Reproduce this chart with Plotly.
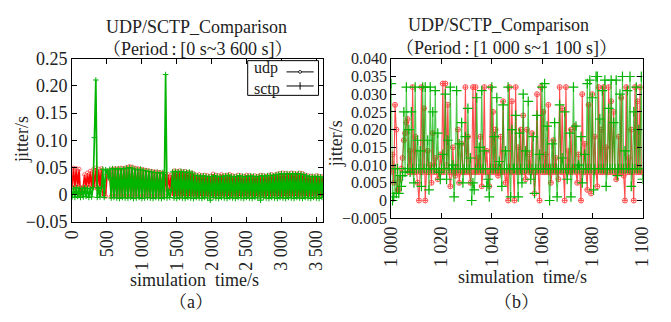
import plotly.graph_objects as go

# ---------------- data ----------------
# panel (a): 0-3600 s, sampled every 20 s; jitter in ms
time_a = list(range(0, 3601, 20))
udp_a_ms = [
    14, 49, 13, 48, 15, 47, -2, 10, 14, 37,
    13, 40, 15, 43, 12, 46, 14, 49, 11, 47,
    12, 48, -2, 10, -3, 38, 44, 40, -3, 47,
    -2, 48, -3, 47, -2, 49, -3, 48, -2, 50,
    -3, 52, -2, 51, -3, 49, -2, 48, -3, 47,
    -2, 46, -3, 45, -2, 44, -3, 43, -2, 42,
    -3, 42, -2, 41, -3, 40, -2, 38, 10, 37,
    9, 36, -2, 44, -3, 43, -2, 44, -3, 42,
    -2, 43, -3, 41, -2, 40, -3, 39, -2, 36,
    -3, 37, -2, 35, -3, 36, -2, 35, -3, 34,
    -2, 38, -3, 36, -2, 35, -3, 37, -2, 35,
    -3, 36, -2, 37, -3, 35, -2, 34, -3, 36,
    -2, 35, -3, 34, -2, 36, -3, 35, -2, 34,
    -3, 35, -2, 34, -3, 36, -2, 35, -3, 34,
    -2, 36, -3, 37, -2, 36, -3, 38, -2, 39,
    -3, 40, -2, 39, -3, 38, -2, 40, -3, 39,
    -2, 38, -3, 40, -2, 39, -3, 36, -2, 35,
    -3, 34, -2, 33, -3, 35, -2, 34, -3, 33, -2,
]
sctp_a_ms = [
    -4, 12, -5, 13, -3, 11, -5, 12, -4, 13,
    -3, 12, -5, 11, -4, 13, 105, 211, -5, 12,
    -4, 13, 47, -5, 46, 44, 31, 47, -6, 48,
    -5, 47, -6, 48, -7, 47, -5, 48, -6, 49,
    -6, 50, -5, 49, -7, 47, -6, 46, -5, 47,
    -7, 45, -6, 44, -5, 43, -6, 42, -7, 41,
    -5, 41, -6, 40, -7, 41, -5, 221, -6, 8,
    -5, 9, 42, -6, 43, -7, 42, -5, 43, -6,
    42, -7, 41, -5, 42, -6, 40, -7, 36, -5,
    35, -6, 34, -7, 35, -5, 34, -6, 33, -10,
    34, -5, 35, -6, 34, -7, 33, -5, 34, -6,
    35, -7, 36, -5, 34, -6, 33, -7, 34, -5,
    35, -6, 34, -7, 33, -5, 34, -6, 35, -7,
    34, -5, 33, -6, 34, -10, 35, -5, 34, -6,
    35, -7, 36, -5, 35, -6, 37, -7, 38, -5,
    39, -6, 38, -7, 39, -5, 38, -6, 39, -7,
    38, -5, 39, -6, 38, -7, 37, -5, 35, -6,
    33, -7, 34, -5, 33, -6, 34, -7, 33, -5, 32,
]

# panel (b): 1000-1100 s, sampled every 0.5 s; jitter in ms
time_b = [1000 + 0.5 * i for i in range(201)]
udp_b_ms = [
    8, 13, 5, 27, 20, 3, 3, 6, 9, 12,
    17, 19, 22, 23, 8, 14, 8, 32, 8, 18,
    8, 5, 0, 8, 32, 8, 26, 0, 8, 14,
    8, 10, 5, 19, 8, 12, 8, 6, 8, 13,
    8, 33, 8, 33, 10, 27, 8, 4, 8, 15,
    8, 7, 8, 20, 5, 8, 16, 8, 8, 32,
    8, 18, 8, 5, 8, 32, 8, 32, 8, 12,
    8, 18, 4, 8, 32, 8, 14, 8, 4, 32,
    8, 25, 8, 20, 8, 7, 8, 18, 8, 28,
    8, 5, 8, 0, 32, 8, 28, 8, 0, 32,
    8, 15, 8, 20, 8, 24, 8, 6, 20, 8,
    13, 8, 19, 8, 2, 8, 30, 8, 0, 32,
    8, 25, 8, 13, 8, 27, 8, 5, 8, 17,
    8, 12, 8, 6, 32, 8, 26, 8, 0, 32,
    8, 14, 8, 20, 8, 9, 21, 8, 5, 13,
    8, 0, 30, 8, 16, 8, 3, 27, 8, 2,
    30, 8, 18, 8, 4, 32, 8, 20, 8, 32,
    8, 15, 8, 32, 8, 28, 8, 25, 8, 6,
    8, 18, 8, 29, 8, 7, 0, 32, 8, 12,
    8, 20, 8, 0, 32, 8, 28, 8, 32, 8, 8,
]
sctp_b_ms = [
    33, 0, 1, 9, 2, 9, 2, 7, 4, 7,
    25, 8, 32, 9, 20, 8, 25, 9, 5, 32,
    9, 17, 9, 14, 4, 32, 9, 32, 9, 17,
    3, 32, 9, 25, 9, 31, 9, 19, 8, 6,
    9, 13, 9, 30, 6, 17, 9, 32, 9, 10,
    1, 9, 31, 9, 16, 9, 22, 5, 9, 18,
    9, 26, 9, 12, 0, 5, 3, 9, 29, 9,
    15, 9, 31, 9, 14, 9, 4, 6, 1, 9,
    32, 9, 18, 9, 29, 9, 11, 9, 4, 27,
    9, 14, 9, 32, 9, 1, 20, 9, 9, 24,
    9, 1, 19, 9, 5, 30, 9, 14, 9, 28,
    9, 6, 9, 18, 2, 9, 24, 9, 13, 9,
    32, 9, 33, 9, 21, 9, 0, 9, 16, 9,
    22, 9, 1, 9, 27, 9, 12, 9, 25, 9,
    6, 9, 19, 1, 9, 32, 9, 21, 9, 10,
    9, 18, 5, 9, 13, 9, 33, 9, 34, 9,
    29, 3, 9, 35, 35, 9, 23, 9, 31, 9,
    34, 4, 9, 26, 9, 34, 9, 22, 9, 34,
    7, 9, 30, 9, 35, 9, 14, 9, 31, 9,
    35, 4, 9, 25, 9, 32, 9, 20, 9, 35, 6,
]

udp_a = [v / 1000 for v in udp_a_ms]
sctp_a = [v / 1000 for v in sctp_a_ms]
udp_b = [v / 1000 for v in udp_b_ms]
sctp_b = [v / 1000 for v in sctp_b_ms]

xticks_a = [0, 500, 1000, 1500, 2000, 2500, 3000, 3500]
xticktext_a = ["0", "500", "1 000", "1 500", "2 000", "2 500", "3 000", "3 500"]
yticks_a = [-0.05, 0, 0.05, 0.10, 0.15, 0.20, 0.25]
yticktext_a = ["\u22120.05", "0", "0.05", "0.10", "0.15", "0.20", "0.25"]
xticks_b = [1000, 1020, 1040, 1060, 1080, 1100]
xticktext_b = ["1 000", "1 020", "1 040", "1 060", "1 080", "1 100"]
yticks_b = [-0.005, 0, 0.005, 0.010, 0.015, 0.020, 0.025, 0.030, 0.035, 0.040]
yticktext_b = ["\u22120.005", "0", "0.005", "0.010", "0.015", "0.020", "0.025",
               "0.030", "0.035", "0.040"]

# ---------------- figure ----------------
W, H = 671, 322
FONT = "Liberation Serif, Times New Roman, Noto Serif CJK SC, Noto Sans CJK SC, serif"
RED = "#ff0000"
GREEN = "#00b400"

def px(x):
    return x / W

def py(y):
    return 1 - y / H

fig = go.Figure()

fig.add_trace(go.Scatter(
    x=time_a, y=udp_a, mode="lines+markers", xaxis="x", yaxis="y",
    line=dict(color=RED, width=1.7, simplify=False),
    marker=dict(symbol="circle-open", size=4, color="rgba(255,90,90,0.9)", line=dict(width=1)),
    showlegend=False, hoverinfo="skip"))
fig.add_trace(go.Scatter(
    x=time_a, y=sctp_a, mode="lines+markers", xaxis="x", yaxis="y",
    line=dict(color=GREEN, width=1.7, simplify=False),
    marker=dict(symbol="cross-thin-open", size=4, color=GREEN, line=dict(width=1, color=GREEN)),
    showlegend=False, hoverinfo="skip"))

fig.add_trace(go.Scatter(
    x=time_b, y=udp_b, mode="lines+markers", xaxis="x2", yaxis="y2",
    line=dict(color="rgba(255,0,0,0.7)", width=1.1, simplify=False),
    marker=dict(symbol="circle-cross-open", size=5, color="rgba(255,70,70,0.9)", line=dict(width=1)),
    showlegend=False, hoverinfo="skip"))
fig.add_trace(go.Scatter(
    x=time_b, y=sctp_b, mode="lines+markers", xaxis="x2", yaxis="y2",
    line=dict(color="rgba(0,180,0,0.7)", width=1.1, simplify=False),
    marker=dict(symbol="cross-thin-open", size=7, color=GREEN, line=dict(width=1.2, color=GREEN)),
    showlegend=False, hoverinfo="skip"))

def axis_common(size):
    return dict(
        showline=True, linecolor="black", linewidth=1.2, mirror="allticks",
        ticks="inside", ticklen=5, tickwidth=1, tickcolor="black",
        showgrid=False, zeroline=False,
        tickfont=dict(family=FONT, size=size, color="#222"),
    )

fig.update_layout(
    width=W, height=H,
    margin=dict(l=0, r=0, t=0, b=0),
    paper_bgcolor="white", plot_bgcolor="white",
    showlegend=False,
    xaxis=dict(domain=[px(64), px(323)], range=[0, 3600], anchor="y",
               tickmode="array", tickvals=xticks_a, ticktext=xticktext_a,
               tickangle=-90, **axis_common(18)),
    yaxis=dict(domain=[py(226), py(52)], range=[-0.05, 0.25], anchor="x",
               tickmode="array", tickvals=yticks_a, ticktext=yticktext_a,
               **axis_common(18)),
    xaxis2=dict(domain=[px(393), px(652)], range=[1000, 1100], anchor="y2",
                tickmode="array", tickvals=xticks_b, ticktext=xticktext_b,
                tickangle=-90, **axis_common(18)),
    yaxis2=dict(domain=[py(222), py(52)], range=[-0.005, 0.040], anchor="x2",
                tickmode="array", tickvals=yticks_b, ticktext=yticktext_b,
                **axis_common(16)),
)

def label(text, x, y, angle=0, size=17, yanchor="middle"):
    fig.add_annotation(text=text, x=px(x), y=py(y), xref="paper", yref="paper",
                       showarrow=False, textangle=angle, xanchor="center", yanchor=yanchor,
                       borderpad=0,
                       font=dict(family=FONT, size=size, color="#222"))

label("UDP/SCTP_Comparison", 192, 29.5, size=18, yanchor="bottom")
label("（Period\u2009:\u2009[0 s~3 600 s]）", 193, 30, size=18, yanchor="top")
label("UDP/SCTP_Comparison", 503, 28, size=18, yanchor="bottom")
label("（Period\u2009:\u2009[1 000 s~1 100 s]）", 512, 28.5, size=18, yanchor="top")
label("jitter/s", 13, 138, angle=-90, size=18)
label("jitter/s", 336, 142, angle=-90, size=18)
label("simulation\u00a0 time/s", 190, 288, size=18)
label("simulation\u00a0 time/s", 528, 285, size=18)
label("（a）", 187, 311, size=18)
label("（b）", 522, 311, size=18)

# legend box for panel (a), drawn gnuplot-style (text then sample)
fig.add_shape(type="rect", xref="paper", yref="paper",
              x0=px(245), x1=px(318), y0=py(91), y1=py(54),
              line=dict(color="black", width=1), fillcolor="white", layer="above")
label("udp", 264, 73, size=16, yanchor="bottom")
label("sctp", 265, 73.5, size=16, yanchor="top")
fig.add_shape(type="line", xref="paper", yref="paper",
              x0=px(285), x1=px(313), y0=py(66), y1=py(66),
              line=dict(color="black", width=1), layer="above")
fig.add_shape(type="circle", xref="paper", yref="paper",
              x0=px(297.5), x1=px(300.5), y0=py(67.5), y1=py(64.5),
              line=dict(color="black", width=0.8), fillcolor="white", layer="above")
fig.add_shape(type="line", xref="paper", yref="paper",
              x0=px(285), x1=px(313), y0=py(81), y1=py(81),
              line=dict(color="black", width=1), layer="above")
fig.add_shape(type="line", xref="paper", yref="paper",
              x0=px(299), x1=px(299), y0=py(77), y1=py(85),
              line=dict(color="black", width=1), layer="above")

fig.write_html("out.html")
